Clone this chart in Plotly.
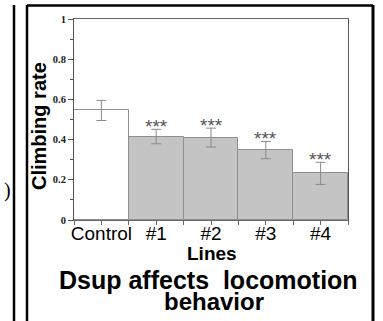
import plotly.graph_objects as go

categories = ["Control", "#1", "#2", "#3", "#4"]
values = [0.545, 0.415, 0.41, 0.348, 0.232]
errors = [0.05, 0.036, 0.047, 0.043, 0.055]
sig_labels = ["", "***", "***", "***", "***"]
y_ticks = [0, 0.2, 0.4, 0.6, 0.8, 1]
y_tick_text = ["0", "0.2", "0.4", "0.6", "0.8", "1"]

W, H = 383, 321
L, R, T, B = 74, 348, 19, 220  # plot area in pixels


def px(x):
    return (x - L) / (R - L)


def py(y):
    return (B - y) / (B - T)


xs = list(range(len(categories)))
bar_colors = ["white"] + ["#c4c4c4"] * (len(categories) - 1)

fig = go.Figure()
fig.add_trace(go.Bar(
    x=xs, y=values, width=1,
    marker=dict(color=bar_colors, line=dict(color="#8e8e8e", width=1)),
    error_y=dict(type="data", array=errors, color="#8a8a8a", thickness=1, width=5),
    showlegend=False,
))

annotations = []
for x, v, e, s in zip(xs, values, errors, sig_labels):
    if s:
        annotations.append(dict(x=x, y=v + e, xref="x", yref="y", text=s, showarrow=False,
                                yanchor="bottom", yshift=-10,
                                font=dict(family="Liberation Sans", size=19, color="#555555")))

annotations += [
    dict(x=px(39), y=py(126), xref="paper", yref="paper", text="<b>Climbing rate</b>",
         textangle=-90, showarrow=False, xanchor="center", yanchor="middle",
         font=dict(family="Liberation Sans", size=20, color="black")),
    dict(x=px(212), y=py(253), xref="paper", yref="paper", text="<b>Lines</b>",
         showarrow=False, xanchor="center", yanchor="middle",
         font=dict(family="Liberation Sans", size=19, color="black")),
    dict(x=px(208), y=py(280), xref="paper", yref="paper",
         text="<b>Dsup affects  locomotion</b>",
         showarrow=False, xanchor="center", yanchor="middle",
         font=dict(family="Liberation Sans", size=25, color="black")),
    dict(x=px(214), y=py(301), xref="paper", yref="paper",
         text="<b>behavior</b>",
         showarrow=False, xanchor="center", yanchor="middle",
         font=dict(family="Liberation Sans", size=24, color="black")),
    dict(x=px(2), y=py(190), xref="paper", yref="paper", text=")",
         showarrow=False, xanchor="left", yanchor="middle",
         font=dict(family="Liberation Serif", size=20, color="black")),
]

shapes = [
    # left line from previous panel
    dict(type="line", xref="paper", yref="paper", x0=px(14), x1=px(14), y0=py(5), y1=py(321),
         line=dict(color="black", width=2.5)),
    # panel border
    dict(type="line", xref="paper", yref="paper", x0=px(27), x1=px(27), y0=py(5), y1=py(321),
         line=dict(color="black", width=2.5)),
    dict(type="line", xref="paper", yref="paper", x0=px(27), x1=px(373), y0=py(5.5), y1=py(5.5),
         line=dict(color="black", width=2.5)),
    dict(type="line", xref="paper", yref="paper", x0=px(373), x1=px(373), y0=py(5), y1=py(321),
         line=dict(color="black", width=3)),
]

fig.update_layout(
    width=W, height=H,
    margin=dict(l=L, r=W - R, t=T, b=H - B),
    paper_bgcolor="white", plot_bgcolor="white",
    bargap=0,
    annotations=annotations,
    shapes=shapes,
    xaxis=dict(range=[-0.5, 4.5], tickvals=xs, ticktext=categories,
               showline=True, linecolor="#666666", linewidth=1, mirror=True,
               ticks="outside", ticklen=4, tickcolor="#666666", ticklabelstandoff=-8,
               minor=dict(tick0=-0.5, dtick=1, ticks="outside", ticklen=4, tickcolor="#666666"),
               showgrid=False, zeroline=False,
               tickfont=dict(family="Liberation Sans", size=19, color="black")),
    yaxis=dict(range=[0, 1], tickvals=y_ticks, ticktext=y_tick_text,
               showline=True, linecolor="#555555", linewidth=1, mirror=True,
               ticks="outside", ticklen=5, tickcolor="#555555",
               minor=dict(dtick=0.1, ticks="outside", ticklen=3, tickcolor="#555555"),
               showgrid=False, zeroline=False,
               tickfont=dict(family="Liberation Serif", size=10.5, color="#222222", weight="bold")),
)

fig.write_html("out.html")
